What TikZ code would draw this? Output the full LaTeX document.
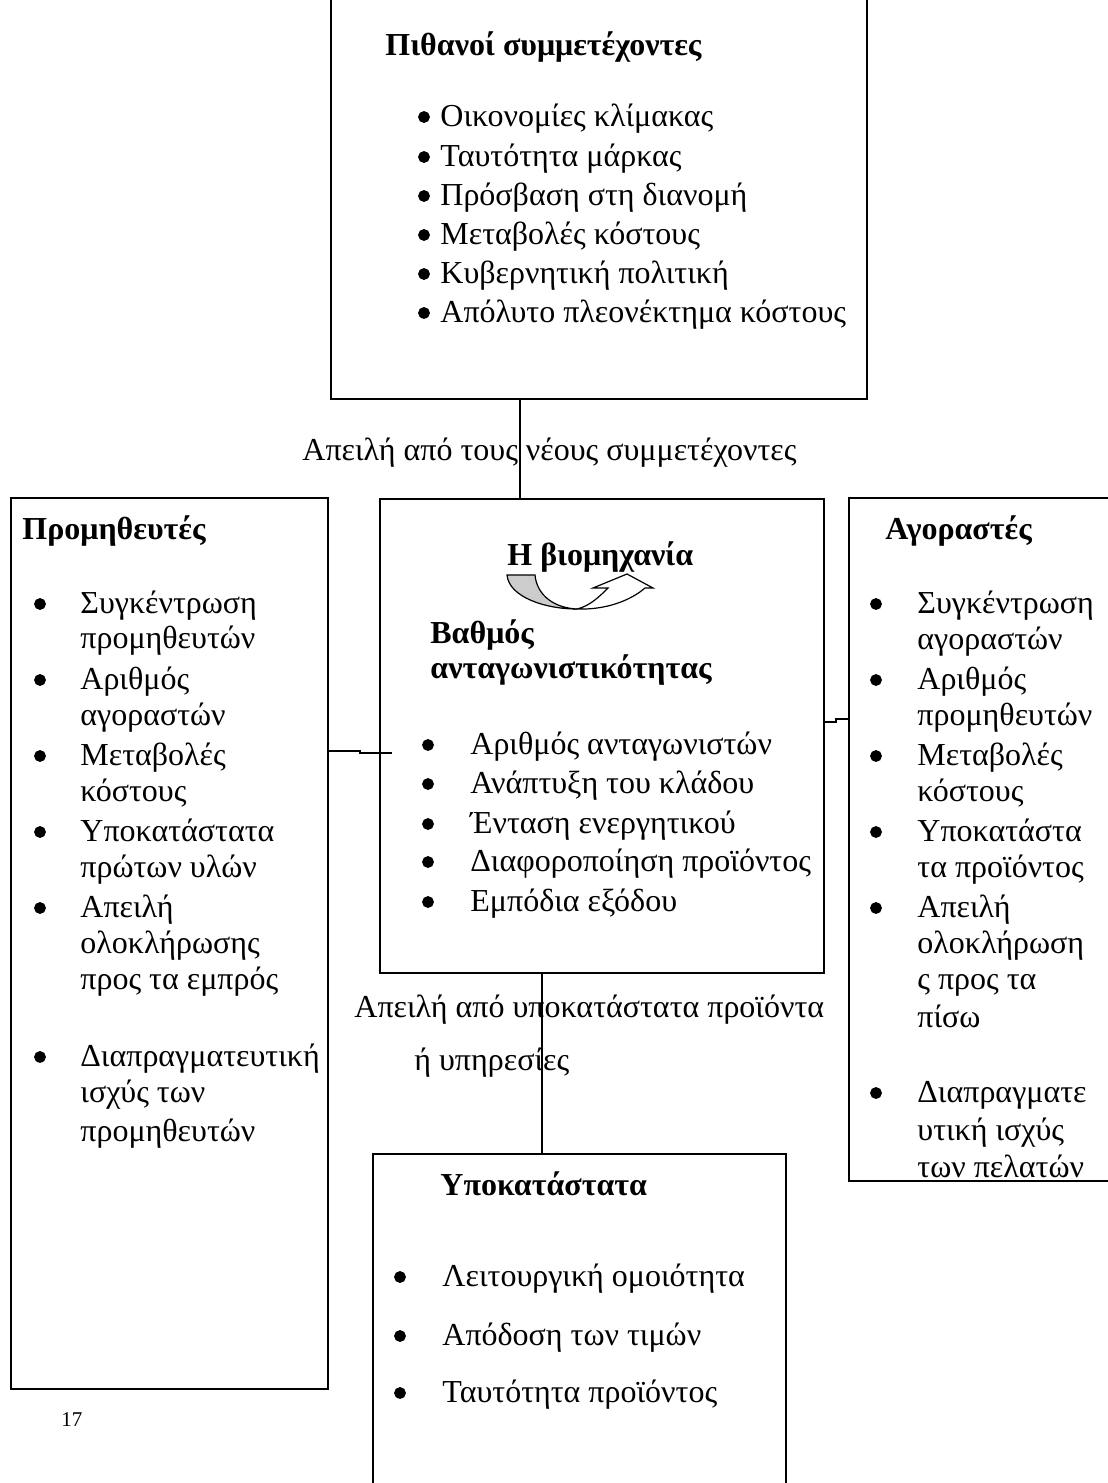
\documentclass[tikz,border=0pt]{standalone}
\usepackage{fontspec}
\setmainfont{Liberation Serif}
\newcommand\bodyfs{\fontsize{16}{19}\selectfont}
\begin{document}
\begin{tikzpicture}[x=0.5pt,y=-0.5pt,
  box/.style={draw, line width=1pt, inner sep=0pt, anchor=north west},
  conn/.style={line width=1pt},
  txt/.style={anchor=base west, inner sep=0pt, font=\bodyfs},
  ttl/.style={anchor=base west, inner sep=0pt, font=\bodyfs\bfseries},
  bul/.style={circle, fill=black, draw=black, inner sep=0pt, minimum size=5.5pt},
  arr/.style={line width=0.6pt}]
\useasboundingbox (0,0) rectangle (1108,1483);
\clip (0,0) rectangle (1108,1483);

% boxes
\node[box, minimum width=268pt, minimum height=204pt] (top) at (330,-10) {};
\node[box, minimum width=158.5pt, minimum height=445.5pt] (lft) at (10,497) {};
\node[box, minimum width=222pt, minimum height=237pt] (ctr) at (379,498) {};
\node[box, minimum width=133.5pt, minimum height=341.5pt] (rgt) at (848,497) {};
\node[box, minimum width=206.5pt, minimum height=171pt] (bot) at (372,1153) {};

% connectors
\coordinate (xa) at (520,0);
\coordinate (xb) at (542,0);
\coordinate (yl) at (0,751);
\coordinate (yr) at (0,722);
\draw[conn] (xa |- top.south) -- (xa |- ctr.north);
\draw[conn] (xb |- ctr.south) -- (xb |- bot.north);
\draw[conn] (lft.east |- yl) -- (360,751) -- (360,753) -- (392,753);
\draw[conn] (ctr.east |- yr) -- (836,722) -- (836,719) -- (rgt.west |- 0,719);

% top box
\node[ttl] (tt) at (385,55) {Πιθανοί συμμετέχοντες};
\foreach \y/\t [count=\i] in {126/Οικονομίες κλίμακας,166/Ταυτότητα μάρκας,205/Πρόσβαση στη διανομή,244/Μεταβολές κόστους,283/Κυβερνητική πολιτική,322/Απόλυτο πλεονέκτημα κόστους}{
  \node[bul] (tb\i) at (424,\y-9) {};
  \node[txt] (tx\i) at (440,\y) {\t};
}
\node[txt] (thr1) at (302,460) {Απειλή από τους νέους συμμετέχοντες};

% left box
\node[ttl] (lt) at (22,539) {Προμηθευτές};
\foreach \y in {613,689,765,841,917,1066}{
  \node[bul] (lb\y) at (40,\y-9) {};
}
\foreach \y/\t in {613/Συγκέντρωση,648/προμηθευτών,689/Αριθμός,725/αγοραστών,765/Μεταβολές,801/κόστους,841/Υποκατάστατα,877/πρώτων υλών,917/Απειλή,953/ολοκλήρωσης,989/προς τα εμπρός,1066/Διαπραγματευτική,1102/ισχύς των,1141/προμηθευτών}{
  \node[txt] (lx\y) at (80,\y) {\t};
}

% center box
\node[ttl] (ct) at (507,565) {Η βιομηχανία};
\fill[gray!40, draw=black, arr] (507,575) -- (535,575)
  .. controls (537,596) and (555,608) .. (577,609)
  .. controls (545,609) and (509,597) .. (507,575) -- cycle;
\filldraw[fill=white, draw=black, arr] (577,609)
  .. controls (590,606) and (600,596) .. (608,588)
  -- (593,588) -- (627,574) -- (653,588) -- (645,588)
  .. controls (630,601) and (605,610) .. (577,609) -- cycle;
\node[ttl] (c1) at (430,643) {Βαθμός};
\node[ttl] (c2) at (430,678) {ανταγωνιστικότητας};
\foreach \y/\t [count=\i] in {754/Αριθμός ανταγωνιστών,793/Ανάπτυξη του κλάδου,833/Ένταση ενεργητικού,871/Διαφοροποίηση προϊόντος,911/Εμπόδια εξόδου}{
  \node[bul] (cb\i) at (428,\y-9) {};
  \node[txt] (cx\i) at (470,\y) {\t};
}
\node[txt] (thr2) at (354,1017) {Απειλή από υποκατάστατα προϊόντα};
\node[txt] (thr3) at (414,1070) {ή υπηρεσίες};

% right box
\node[ttl] (rt) at (885,539) {Αγοραστές};
\foreach \y in {613,689,765,841,917,1102}{
  \node[bul] (rb\y) at (876,\y-9) {};
}
\foreach \y/\t in {613/Συγκέντρωση,649/αγοραστών,689/Αριθμός,725/προμηθευτών,765/Μεταβολές,801/κόστους,841/Υποκατάστα,877/τα προϊόντος,917/Απειλή,953/ολοκλήρωση,989/ς προς τα,1027/πίσω,1102/Διαπραγματε,1140/υτική ισχύς,1177/των πελατών}{
  \node[txt] (rx\y) at (917,\y) {\t};
}

% bottom box
\node[ttl] (bt) at (440,1195) {Υποκατάστατα};
\foreach \y/\t [count=\i] in {1286/Λειτουργική ομοιότητα,1345/Απόδοση των τιμών,1402/Ταυτότητα προϊόντος}{
  \node[bul] (bb\i) at (400,\y-9) {};
  \node[txt] (bx\i) at (442,\y) {\t};
}

% page number
\node[anchor=base west, inner sep=0pt, font=\fontsize{10.5}{12}\selectfont] (pg) at (61,1426) {17};
\end{tikzpicture}
\end{document}
